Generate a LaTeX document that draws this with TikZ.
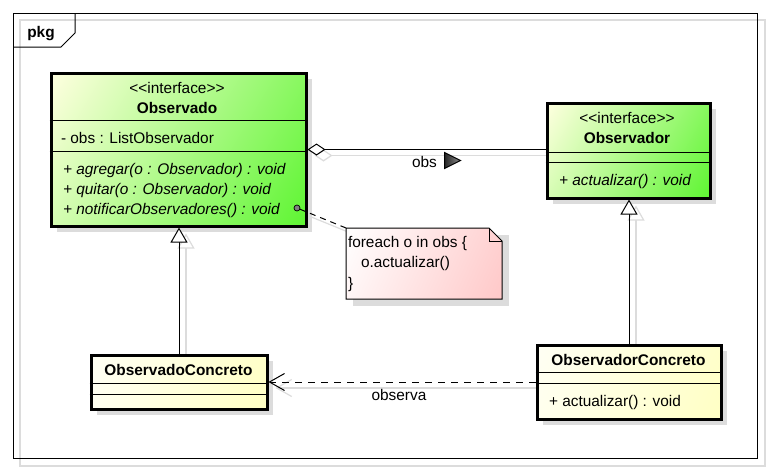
\documentclass[tikz,border=0pt]{standalone}
\usepackage{fontspec}
\setmainfont{Liberation Sans}
\usetikzlibrary{arrows.meta,shadows,calc}
\pgfdeclarelayer{bg}
\pgfsetlayers{bg,main}
\definecolor{ifaceL}{HTML}{FFFFE0}
\definecolor{ifaceR}{HTML}{5EF532}
\definecolor{concL}{HTML}{FFFFF4}
\definecolor{concR}{HTML}{FFFFC4}
\definecolor{noteR}{HTML}{FFC8C8}
\definecolor{shad}{HTML}{DCDCDC}
\newcommand\dfont{\fontsize{15.4}{18}\selectfont}
\begin{document}
\begin{tikzpicture}[x=1pt,y=-1pt,
  every node/.style={font=\dfont, inner sep=0pt, outer sep=0pt},
  diagfill/.style n args={4}{path picture={
    \shade[transform canvas={rotate around={-#3:(path picture bounding box.center)}},
      left color=#1, right color=#2]
      ($(path picture bounding box.center)+(-#4,-400)$) rectangle ($(path picture bounding box.center)+(#4,400)$);}},
  classbox/.style={draw, line width=3pt, outer sep=1.5pt, anchor=north west, rectangle, fill=white,
    general shadow={fill=shad, shadow xshift=6pt, shadow yshift=-6pt}},
  sepline/.style={line width=1pt},
  txt/.style={anchor=base},
  txtl/.style={anchor=base west},
  bold/.style={font=\dfont\bfseries},
  ital/.style={font=\dfont\itshape},
  conn/.style={line width=1pt},
  assoc/.style={conn, {Diamond[length=18pt,width=12pt,fill=white,line width=1pt]}-},
  genz/.style={conn, -{Triangle[length=15pt,width=17pt,fill=white,line width=1pt]}},
  depend/.style={conn, dash pattern=on 7pt off 6pt, -{Straight Barb[length=15pt,width=17pt,line width=1pt]}},
  notelink/.style={conn, dash pattern=on 6pt off 5pt},
  shadline/.style={draw=shad, line width=1.2pt}
]
\useasboundingbox (0,0) rectangle (769,472);

% frame
\node[draw, line width=1pt, minimum width=744pt, minimum height=445pt, anchor=north west] (frame) at (13,13) {};
\draw[line width=1pt] (13,47) -- (61,47) -- (75,33) -- (75,13);
\node[txt, bold] (pkg) at (41,37.5) {pkg};

% class boxes
\node[classbox, diagfill={ifaceL}{ifaceR}{30.96}{148.7}, minimum width=255pt, minimum height=153pt] (obsdo) at (49.5,71.5) {};
\node[classbox, diagfill={ifaceL}{ifaceR}{30.23}{94.4}, minimum width=163pt, minimum height=95pt] (obsvr) at (545.5,101.5) {};
\node[classbox, diagfill={concL}{concR}{17.06}{92}, minimum width=176pt, minimum height=54pt] (obscto) at (89.5,353.5) {};
\node[classbox, diagfill={concL}{concR}{21.9}{99.2}, minimum width=184pt, minimum height=74pt] (obsrc) at (535.5,343.5) {};

% separators
\draw[sepline] (obsdo.west |- 0,120) -- (obsdo.east |- 0,120);
\draw[sepline] (obsdo.west |- 0,151) -- (obsdo.east |- 0,151);
\draw[sepline] (obsvr.west |- 0,152) -- (obsvr.east |- 0,152);
\draw[sepline] (obsvr.west |- 0,162) -- (obsvr.east |- 0,162);
\draw[sepline] (obscto.west |- 0,383) -- (obscto.east |- 0,383);
\draw[sepline] (obscto.west |- 0,394) -- (obscto.east |- 0,394);
\draw[sepline] (obsrc.west |- 0,372) -- (obsrc.east |- 0,372);
\draw[sepline] (obsrc.west |- 0,383) -- (obsrc.east |- 0,383);

% Observado texts
\node[txt] (odst) at (177,93) {<{}<interface>{}>};
\node[txt, bold] (odnm) at (177,113) {Observado};
\node[txtl] (odat) at (61,143) {- obs : ListObservador};
\node[txtl, ital] (odm1) at (63,174) {+ agregar(o : Observador) : void};
\node[txtl, ital] (odm2) at (63,194) {+ quitar(o : Observador) : void};
\node[txtl, ital] (odm3) at (63,214) {+ notificarObservadores() : void};

% Observador texts
\node[txt] (orst) at (627,123) {<{}<interface>{}>};
\node[txt, bold] (ornm) at (627,143) {Observador};
\node[txtl, ital] (orm1) at (559,185) {+ actualizar() : void};

% concrete texts
\node[txt, bold] (ocnm) at (178.5,375) {ObservadoConcreto};
\node[txt, bold] (orcnm) at (628.5,365) {ObservadorConcreto};
\node[txtl] (orcm1) at (549,406) {+ actualizar() : void};

% note
\node[minimum width=156pt, minimum height=71pt, anchor=north west] (note) at (346,228) {};
\begin{pgfonlayer}{bg}
\fill[shad] ($(note.north west)+(7,7)$) rectangle ($(note.south east)+(7,7)$);
\end{pgfonlayer}
\draw[line width=1pt, fill=white, diagfill={white}{noteR}{24.5}{85.7}]
  (note.north west) -- ($(note.north east)+(-13,0)$) -- ($(note.north east)+(0,13)$)
  -- (note.south east) -- (note.south west) -- cycle;
\draw[line width=1pt] ($(note.north east)+(-13,0)$) -- ++(0,13) -- ++(13,0);
\node[txtl] (n1) at (348,247) {foreach o in obs \{};
\node[txtl] (n2) at (361,267.5) {o.actualizar()};
\node[txtl] (n3) at (348,288) {\}};

% note link
\node[circle, draw, line width=0.7pt, fill=black!50, minimum size=6pt] (dot) at (297,208) {};
\draw[notelink] (dot) -- (note.north west);

% connectors
\draw[assoc] (obsdo.east |- 0,149.5) -- (obsvr.west |- 0,149.5);
\node[txt] (obslbl) at (424.5,167) {obs};
\shadedraw[left color=black!85, right color=black!45, line width=1pt] (444.5,152.5) -- (444.5,168.5) -- (460.5,160.5) -- cycle;
\draw[genz] (obscto.north) -- (obscto.north |- obsdo.south);
\draw[genz] (obsrc.north) -- (obsrc.north |- obsvr.south);
\draw[depend] (obsrc.west |- obscto.east) -- (obscto.east);
\node[txt] (deplbl) at (399,400) {observa};

% shadows of frame and connectors
\begin{pgfonlayer}{bg}
\draw[shad, line width=1.2pt] (20,20) rectangle (765,466);
\begin{scope}[transform canvas={xshift=7pt, yshift=-6pt}]
\draw[shadline, {Diamond[length=18pt,width=12pt,fill=white,line width=1.2pt]}-] (obsdo.east |- 0,149.5) -- (obsvr.west |- 0,149.5);
\draw[shadline, -{Triangle[length=15pt,width=17pt,fill=white,line width=1.2pt]}] (obscto.north) -- (obscto.north |- obsdo.south);
\draw[shadline, -{Triangle[length=15pt,width=17pt,fill=white,line width=1.2pt]}] (obsrc.north) -- (obsrc.north |- obsvr.south);
\draw[shadline, -{Straight Barb[length=15pt,width=17pt,line width=1.2pt]}] (obsrc.west |- obscto.east) -- (obscto.east);
\draw[shadline] (dot) -- (note.north west);
\end{scope}
\end{pgfonlayer}
\end{tikzpicture}
\end{document}
